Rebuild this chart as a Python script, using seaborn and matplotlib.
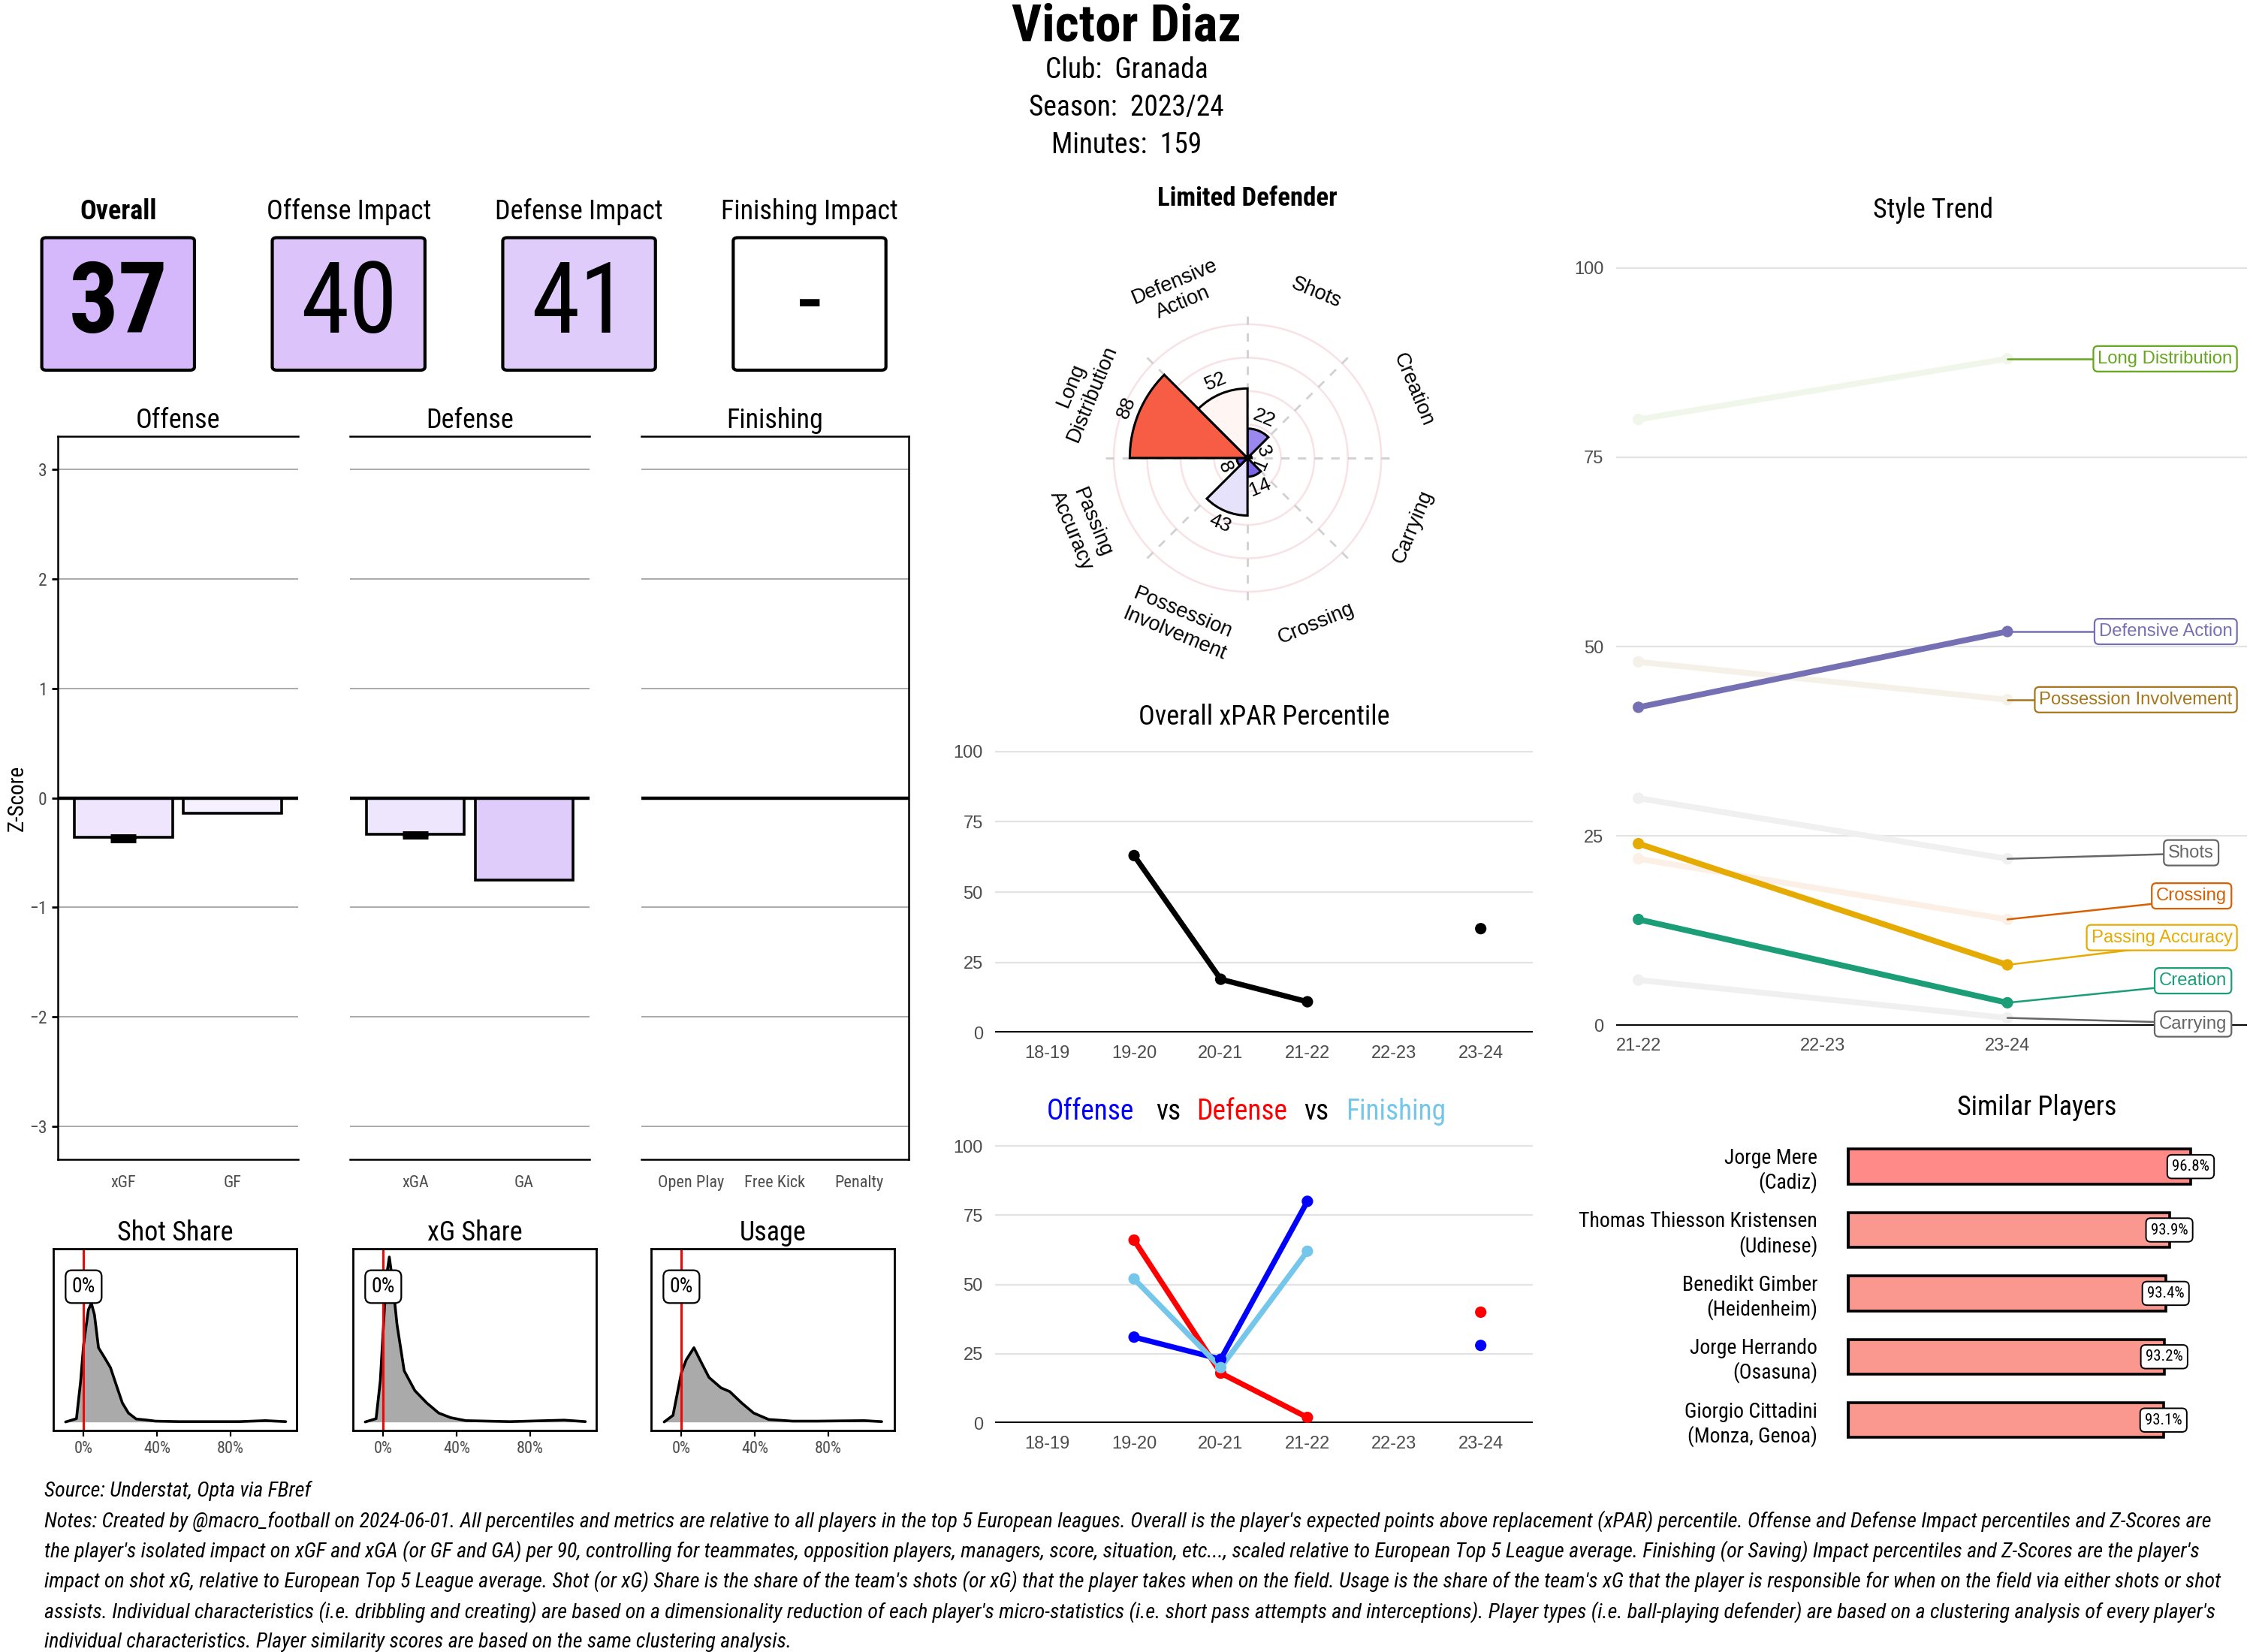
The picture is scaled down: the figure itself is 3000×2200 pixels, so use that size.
import numpy as np
import pandas as pd
import matplotlib
matplotlib.use("Agg")
import matplotlib.pyplot as plt
import matplotlib.colors as mcolors
from matplotlib import font_manager
from matplotlib.patches import FancyBboxPatch
import seaborn as sns

sns.set_theme(style="white")

installed = {f.name for f in font_manager.fontManager.ttflist}


def pick(*names):
    for n in names:
        if n in installed:
            return n
    return "DejaVu Sans"


COND = pick("Roboto Condensed", "Liberation Sans Narrow", "DejaVu Sans Condensed", "Roboto")
ARIAL = pick("Liberation Sans", "Arimo", "DejaVu Sans")
plt.rcParams["font.family"] = [COND, "DejaVu Sans"]
plt.rcParams["text.color"] = "black"
plt.rcParams["axes.labelcolor"] = "black"

# Header
PLAYER = "Victor Diaz"
CLUB = "Granada"
SEASON = "2023/24"
MINUTES = 159
PLAYER_TYPE = "Limited Defender"

# Score tiles
tile_labels = ["Overall", "Offense Impact", "Defense Impact", "Finishing Impact"]
tile_values = [37, 40, 41, None]

# Z-scores
z_off_metrics = ["xGF", "GF"]
z_off_values = [-0.36, -0.14]
z_off_err = [0.015, 0.0]
z_def_metrics = ["xGA", "GA"]
z_def_values = [-0.33, -0.75]
z_def_err = [0.012, 0.0]
z_fin_metrics = ["Open Play", "Free Kick", "Penalty"]
z_fin_values = [0.0, 0.0, 0.0]

# Share densities (x as share, y as relative density)
shot_x = [-0.098, -0.039, -0.016, 0.0, 0.026, 0.042, 0.059, 0.081, 0.114, 0.146,
          0.179, 0.211, 0.244, 0.286, 0.34, 0.39, 0.52, 0.845, 0.99, 1.10]
shot_y = [0.0, 0.02, 0.25, 0.47, 0.68, 0.72, 0.65, 0.45, 0.39, 0.33,
          0.22, 0.115, 0.054, 0.018, 0.012, 0.005, 0.002, 0.002, 0.008, 0.002]
xg_x = [-0.098, -0.039, -0.016, 0.0, 0.016, 0.033, 0.049, 0.075, 0.114, 0.172,
        0.237, 0.302, 0.367, 0.449, 0.69, 0.985, 1.10]
xg_y = [0.0, 0.02, 0.25, 0.56, 0.87, 1.0, 0.87, 0.59, 0.31, 0.19,
        0.115, 0.054, 0.026, 0.008, 0.002, 0.011, 0.002]
usage_x = [-0.094, -0.046, 0.0, 0.026, 0.068, 0.101, 0.15, 0.215, 0.263, 0.328,
           0.393, 0.475, 0.605, 0.735, 0.995, 1.09]
usage_y = [0.0, 0.04, 0.30, 0.376, 0.45, 0.376, 0.27, 0.207, 0.184, 0.115,
           0.054, 0.015, 0.005, 0.005, 0.008, 0.002]
player_share = [0.0, 0.0, 0.0]

# Style radar (2023-24 percentiles)
style_cats = ["Shots", "Creation", "Carrying", "Crossing", "Possession Involvement",
              "Passing Accuracy", "Long Distribution", "Defensive Action"]
style_2324 = [22, 3, 1, 14, 43, 8, 88, 52]
style_2122 = [30, 14, 6, 22, 48, 24, 80, 42]
trend_seasons = ["21-22", "22-23", "23-24"]

# Season percentiles
seasons = ["18-19", "19-20", "20-21", "21-22", "22-23", "23-24"]
overall_pct = [np.nan, 63, 19, 11, np.nan, 37]
offense_pct = [np.nan, 31, 23, 80, np.nan, 28]
defense_pct = [np.nan, 66, 18, 2, np.nan, 40]
finishing_pct = [np.nan, 52, 20, 62, np.nan, np.nan]

# Similar players
sim_names = ["Jorge Mere", "Thomas Thiesson Kristensen", "Benedikt Gimber",
             "Jorge Herrando", "Giorgio Cittadini"]
sim_clubs = ["Cadiz", "Udinese", "Heidenheim", "Osasuna", "Monza, Genoa"]
sim_scores = [96.8, 93.9, 93.4, 93.2, 93.1]

notes = [
    "Notes: Created by @macro_football on 2024-06-01. All percentiles and metrics are relative to all players in the top 5 European leagues. Overall is the player's expected points above replacement (xPAR) percentile. Offense and Defense Impact percentiles and Z-Scores are",
    "the player's isolated impact on xGF and xGA (or GF and GA) per 90, controlling for teammates, opposition players, managers, score, situation, etc..., scaled relative to European Top 5 League average. Finishing (or Saving) Impact percentiles and Z-Scores are the player's",
    "impact on shot xG, relative to European Top 5 League average. Shot (or xG) Share is the share of the team's shots (or xG) that the player takes when on the field. Usage is the share of the team's xG that the player is responsible for when on the field via either shots or shot",
    "assists. Individual characteristics (i.e. dribbling and creating) are based on a dimensionality reduction of each player's micro-statistics (i.e. short pass attempts and interceptions). Player types (i.e. ball-playing defender) are based on a clustering analysis of every player's",
    "individual characteristics. Player similarity scores are based on the same clustering analysis.",
]

# Styles
tile_colors = ["#D4B8FB", "#DCC4FB", "#E0CCFB", "white"]
z_off_colors = ["#EFE6FD", "#F5F1FE"]
z_def_colors = ["#EEE6FD", "#E0CCFB"]
sim_colors = ["#FF8A88", "#FA978F", "#FA978F", "#FA978F", "#FA978F"]
trend_colors = {"Long Distribution": "#66A61E", "Defensive Action": "#7570B3",
                "Possession Involvement": "#A6761D", "Shots": "#666666",
                "Crossing": "#D95F02", "Passing Accuracy": "#E6AB02",
                "Creation": "#1B9E77", "Carrying": "#666666"}
highlight = {"Defensive Action", "Passing Accuracy", "Creation"}
label_y = {"Long Distribution": 88, "Defensive Action": 52, "Possession Involvement": 43,
           "Shots": 22.8, "Crossing": 17.1, "Passing Accuracy": 11.6,
           "Creation": 5.9, "Carrying": 0.2}
label_x = {"Long Distribution": 3.22, "Defensive Action": 3.22, "Possession Involvement": 3.22,
           "Shots": 3.12, "Crossing": 3.19, "Passing Accuracy": 3.22,
           "Creation": 3.19, "Carrying": 3.19}
radar_cmap = mcolors.LinearSegmentedColormap.from_list(
    "pct", [(0, "#4B2BE0"), (0.5, "#FFFFFF"), (1, "#F52A0A")])
TICK_GREY = "#4D4D4D"

W, H = 1564, 1147


def rect(x0, y0, x1, y1):
    return [x0 / W, 1 - y1 / H, (x1 - x0) / W, (y1 - y0) / H]


def fx(x):
    return x / W


def fy(y):
    return 1 - y / H


fig = plt.figure(figsize=(15, 11), dpi=200)

# Header
fig.text(0.5, fy(19), PLAYER, ha="center", va="center", fontsize=25, fontweight="bold")
for yy, line in zip([49, 75, 101], [f"Club:  {CLUB}", f"Season:  {SEASON}", f"Minutes:  {MINUTES}"]):
    fig.text(0.5, fy(yy), line, ha="center", va="center", fontsize=13.5)

# Tiles
for i, (lab, val, col) in enumerate(zip(tile_labels, tile_values, tile_colors)):
    x0 = 29 + 160 * i
    cx = x0 + 53
    fig.text(fx(cx), fy(147), lab, ha="center", va="center", fontsize=13,
             fontweight="bold" if i == 0 else "normal")
    fig.patches.append(FancyBboxPatch((fx(x0), fy(257)), 106 / W, 92 / H,
                                      boxstyle="round,pad=0,rounding_size=0.002",
                                      transform=fig.transFigure, facecolor=col,
                                      edgecolor="black", lw=1.5))
    fig.text(fx(cx), fy(212), "-" if val is None else str(val), ha="center", va="center",
             fontsize=47, fontweight="bold" if i == 0 else "normal")

# Z-score panels
z_panels = [
    ("Offense", z_off_metrics, z_off_values, z_off_err, z_off_colors, rect(40, 303, 207, 805)),
    ("Defense", z_def_metrics, z_def_values, z_def_err, z_def_colors, rect(243, 303, 409, 805)),
    ("Finishing", z_fin_metrics, z_fin_values, [0, 0, 0], ["white"] * 3, rect(445, 303, 631, 805)),
]
for k, (title, mets, vals, errs, cols, pos) in enumerate(z_panels):
    ax = fig.add_axes(pos)
    for yv in range(-3, 4):
        ax.axhline(yv, color="#AAAAAA", lw=0.7, zorder=0)
    sns.barplot(x=mets, y=vals, hue=mets, palette=cols, legend=False, ax=ax, saturation=1,
                width=0.9, edgecolor="black", linewidth=1.3, zorder=2)
    for i, (v, e) in enumerate(zip(vals, errs)):
        if e > 0:
            ax.errorbar(i, v - 0.01, yerr=e, color="black", capsize=6, capthick=2.5,
                        elinewidth=2.5, zorder=4)
    ax.axhline(0, color="black", lw=1.6, zorder=3)
    ax.set_ylim(-3.3, 3.3)
    ax.set_xlim(-0.6, len(mets) - 0.4)
    ax.set_xlabel("")
    ax.set_ylabel("")
    for s in ax.spines.values():
        s.set_visible(False)
    ax.spines["top"].set_visible(True)
    ax.spines["bottom"].set_visible(True)
    ax.set_yticks(range(-3, 4))
    if k == 0:
        ax.spines["left"].set_visible(True)
        ax.tick_params(axis="y", left=True, length=3, width=1, color="black",
                       labelsize=8.5, labelcolor=TICK_GREY, pad=2)
        ax.set_ylabel("Z-Score", fontsize=10.5, labelpad=1)
    else:
        ax.tick_params(axis="y", left=False, labelleft=False)
    if k == 2:
        ax.spines["right"].set_visible(True)
    for s in ax.spines.values():
        s.set_color("black")
        s.set_linewidth(0.9)
    ax.tick_params(axis="x", bottom=False, labelsize=8, labelcolor=TICK_GREY, pad=1.5)
    ax.set_title(title, fontsize=13, pad=4)

# Share densities
dens = [("Shot Share", shot_x, shot_y, rect(37, 867, 206, 993)),
        ("xG Share", xg_x, xg_y, rect(245, 867, 414, 993)),
        ("Usage", usage_x, usage_y, rect(452, 867, 621, 993))]
for (title, xs, ys, pos), share in zip(dens, player_share):
    ax = fig.add_axes(pos)
    ax.fill_between(xs, ys, color="#AAAAAA", lw=0)
    sns.lineplot(x=xs, y=ys, ax=ax, color="black", lw=1.3, sort=False)
    ax.axvline(share, color="red", lw=1.1)
    ax.text(share, 0.82, f"{share:.0%}", ha="center", va="center", fontsize=10,
            bbox=dict(boxstyle="round,pad=0.3", fc="white", ec="black", lw=0.8))
    ax.set_xlim(-0.165, 1.16)
    ax.set_ylim(-0.05, 1.05)
    ax.set_xticks([0, 0.4, 0.8])
    ax.set_xticklabels(["0%", "40%", "80%"])
    ax.set_yticks([])
    ax.tick_params(axis="x", bottom=True, length=3, width=0.8, color="black",
                   labelsize=8, labelcolor=TICK_GREY, pad=2)
    for s in ax.spines.values():
        s.set_color("black")
        s.set_linewidth(1.0)
    ax.set_title(title, fontsize=13, pad=4)

# Style radar
fig.text(fx(866), fy(138), PLAYER_TYPE, ha="center", va="center", fontsize=12.5, fontweight="bold")
R = 130
axp = fig.add_axes(rect(866 - R, 318 - R, 866 + R, 318 + R), projection="polar")
axp.set_theta_zero_location("N")
axp.set_theta_direction(-1)
axp.set_ylim(0, 140)
axp.axis("off")
tt = np.linspace(0, 2 * np.pi, 400)
for rr in [25, 50, 75, 100]:
    axp.plot(tt, np.full_like(tt, rr), color="#F8E2E5", lw=0.9, zorder=0)
for k in range(8):
    axp.plot([k * np.pi / 4] * 2, [0, 110], color="#D0D0D0", lw=1.0,
             ls=(0, (4, 4)), zorder=0)
thetas = [(i + 0.5) * np.pi / 4 for i in range(len(style_cats))]
axp.bar(thetas, style_2324, width=np.pi / 4, bottom=0,
        color=[radar_cmap(v / 100) for v in style_2324], edgecolor="black", lw=1.1, zorder=2)
for th, cat, v in zip(thetas, style_cats, style_2324):
    phi = 90 - np.degrees(th)
    rot = phi - 90 if np.sin(np.radians(phi)) >= 0 else phi + 90
    axp.text(th, v + 10, str(v), rotation=rot, rotation_mode="anchor", ha="center",
             va="center", fontsize=9.5, family=ARIAL, zorder=3)
    axp.text(th, 134, cat.replace(" ", "\n"), rotation=rot, rotation_mode="anchor",
             ha="center", va="center", fontsize=9.8, family=ARIAL, linespacing=1.2)


def season_axis(ax, n):
    ax.set_xlim(-0.6, n - 0.4)
    ax.set_ylim(0, 105)
    ax.set_yticks([0, 25, 50, 75, 100])
    ax.set_xticks(range(n))
    ax.set_xticklabels(seasons)
    ax.grid(axis="y", color="#E3E3E3", lw=0.8)
    ax.grid(axis="x", visible=False)
    for s in ax.spines.values():
        s.set_visible(False)
    ax.axhline(0, color="black", lw=1.4, zorder=1)
    ax.tick_params(axis="both", length=0, labelsize=8.5, labelcolor=TICK_GREY, pad=6)
    for lab in ax.get_xticklabels() + ax.get_yticklabels():
        lab.set_family(ARIAL)


def season_df(vals):
    d = pd.DataFrame({"x": np.arange(len(seasons)), "v": vals})
    d["seg"] = d["v"].isna().cumsum()
    return d.dropna()


# Overall xPAR percentile
ax = fig.add_axes(rect(691, 512, 1064, 717))
d = season_df(overall_pct)
sns.lineplot(data=d, x="x", y="v", units="seg", estimator=None, ax=ax, color="black", lw=2.6)
sns.scatterplot(data=d, x="x", y="v", ax=ax, color="black", s=30, edgecolor="none", zorder=4)
season_axis(ax, len(seasons))
ax.set_xlabel("")
ax.set_ylabel("")
ax.set_title("Overall xPAR Percentile", fontsize=13, pad=6)

# Offense vs Defense vs Finishing
ax = fig.add_axes(rect(691, 786, 1064, 988))
for vals, col in [(offense_pct, "#0000FF"), (defense_pct, "#FF0000"), (finishing_pct, "#75C6EB")]:
    d = season_df(vals)
    sns.lineplot(data=d, x="x", y="v", units="seg", estimator=None, ax=ax, color=col, lw=2.6)
    sns.scatterplot(data=d, x="x", y="v", ax=ax, color=col, s=30, edgecolor="none", zorder=4)
season_axis(ax, len(seasons))
ax.set_xlabel("")
ax.set_ylabel("")
for xx, word, col in [(757, "Offense", "#0000FF"), (811, "vs", "black"), (862, "Defense", "#FF0000"),
                      (914, "vs", "black"), (969, "Finishing", "#75C6EB")]:
    fig.text(fx(xx), fy(772), word, ha="center", va="center", fontsize=13.5, color=col)

# Style trend
fig.text(fx(1342), fy(146), "Style Trend", ha="center", va="center", fontsize=13)
ax = fig.add_axes(rect(1122, 176, 1560, 712))
ax.set_xlim(-0.12, 3.3)
ax.set_ylim(0, 101.9)
ax.set_yticks([0, 25, 50, 75, 100])
ax.set_xticks([0, 1, 2])
ax.set_xticklabels(trend_seasons)
ax.grid(axis="y", color="#E3E3E3", lw=0.8)
for s in ax.spines.values():
    s.set_visible(False)
ax.axhline(0, color="black", lw=1.4, zorder=1)
ax.tick_params(axis="both", length=0, labelsize=8.5, labelcolor=TICK_GREY, pad=6)
for lab in ax.get_xticklabels() + ax.get_yticklabels():
    lab.set_family(ARIAL)
order = sorted(style_cats, key=lambda c: c in highlight)
for cat in order:
    i = style_cats.index(cat)
    col = trend_colors[cat]
    if cat in highlight:
        lc = col
        z = 4
    else:
        rgb = np.array(mcolors.to_rgb(col))
        lc = tuple(0.9 + 0.1 * rgb)
        z = 2
    d = pd.DataFrame({"x": [0, 2], "v": [style_2122[i], style_2324[i]]})
    sns.lineplot(data=d, x="x", y="v", ax=ax, color=lc, lw=2.8, zorder=z)
    sns.scatterplot(data=d, x="x", y="v", ax=ax, color=lc, s=30, edgecolor="none", zorder=z + 1)
    ax.plot([2, label_x[cat]], [style_2324[i], label_y[cat]], color=col, lw=0.9, zorder=3,
            clip_on=False)
    ax.text(label_x[cat], label_y[cat], cat, ha="right", va="center", fontsize=8.6,
            family=ARIAL, color=col, zorder=6, clip_on=False,
            bbox=dict(boxstyle="round,pad=0.25", fc="white", ec=col, lw=0.8))
ax.set_xlabel("")
ax.set_ylabel("")

# Similar players
fig.text(fx(1414), fy(769), "Similar Players", ha="center", va="center", fontsize=13)
ax = fig.add_axes(rect(1282, 788, 1560, 1008))
sim_labels = [f"{n}\n({c})" for n, c in zip(sim_names, sim_clubs)]
sns.barplot(x=sim_scores, y=sim_labels, hue=sim_labels, palette=sim_colors, legend=False,
            orient="h", width=0.55, edgecolor="black", linewidth=1.3, saturation=1, ax=ax)
ax.set_xlim(50, 104.5)
ax.set_ylim(4.5, -0.5)
for i, sc in enumerate(sim_scores):
    ax.plot([50, 50], [i - 0.275, i + 0.275], color="black", lw=2.6, solid_capstyle="butt")
    ax.text(sc, i, f"{sc}%", ha="center", va="center", fontsize=7.5,
            bbox=dict(boxstyle="round,pad=0.3", fc="white", ec="black", lw=0.7))
for s in ax.spines.values():
    s.set_visible(False)
ax.set_xticks([])
ax.tick_params(axis="y", length=0, labelsize=10, labelcolor="black", pad=14)
for lab in ax.get_yticklabels():
    lab.set_horizontalalignment("right")
ax.set_xlabel("")
ax.set_ylabel("")

# Footer
fig.text(fx(31), fy(1035), "Source: Understat, Opta via FBref", ha="left", va="center",
         fontsize=10.1, style="italic")
for k, line in enumerate(notes):
    fig.text(fx(31), fy(1056 + 21 * k), line, ha="left", va="center", fontsize=10.1,
             style="italic")

fig.savefig("out.png", dpi=200, facecolor="white")
